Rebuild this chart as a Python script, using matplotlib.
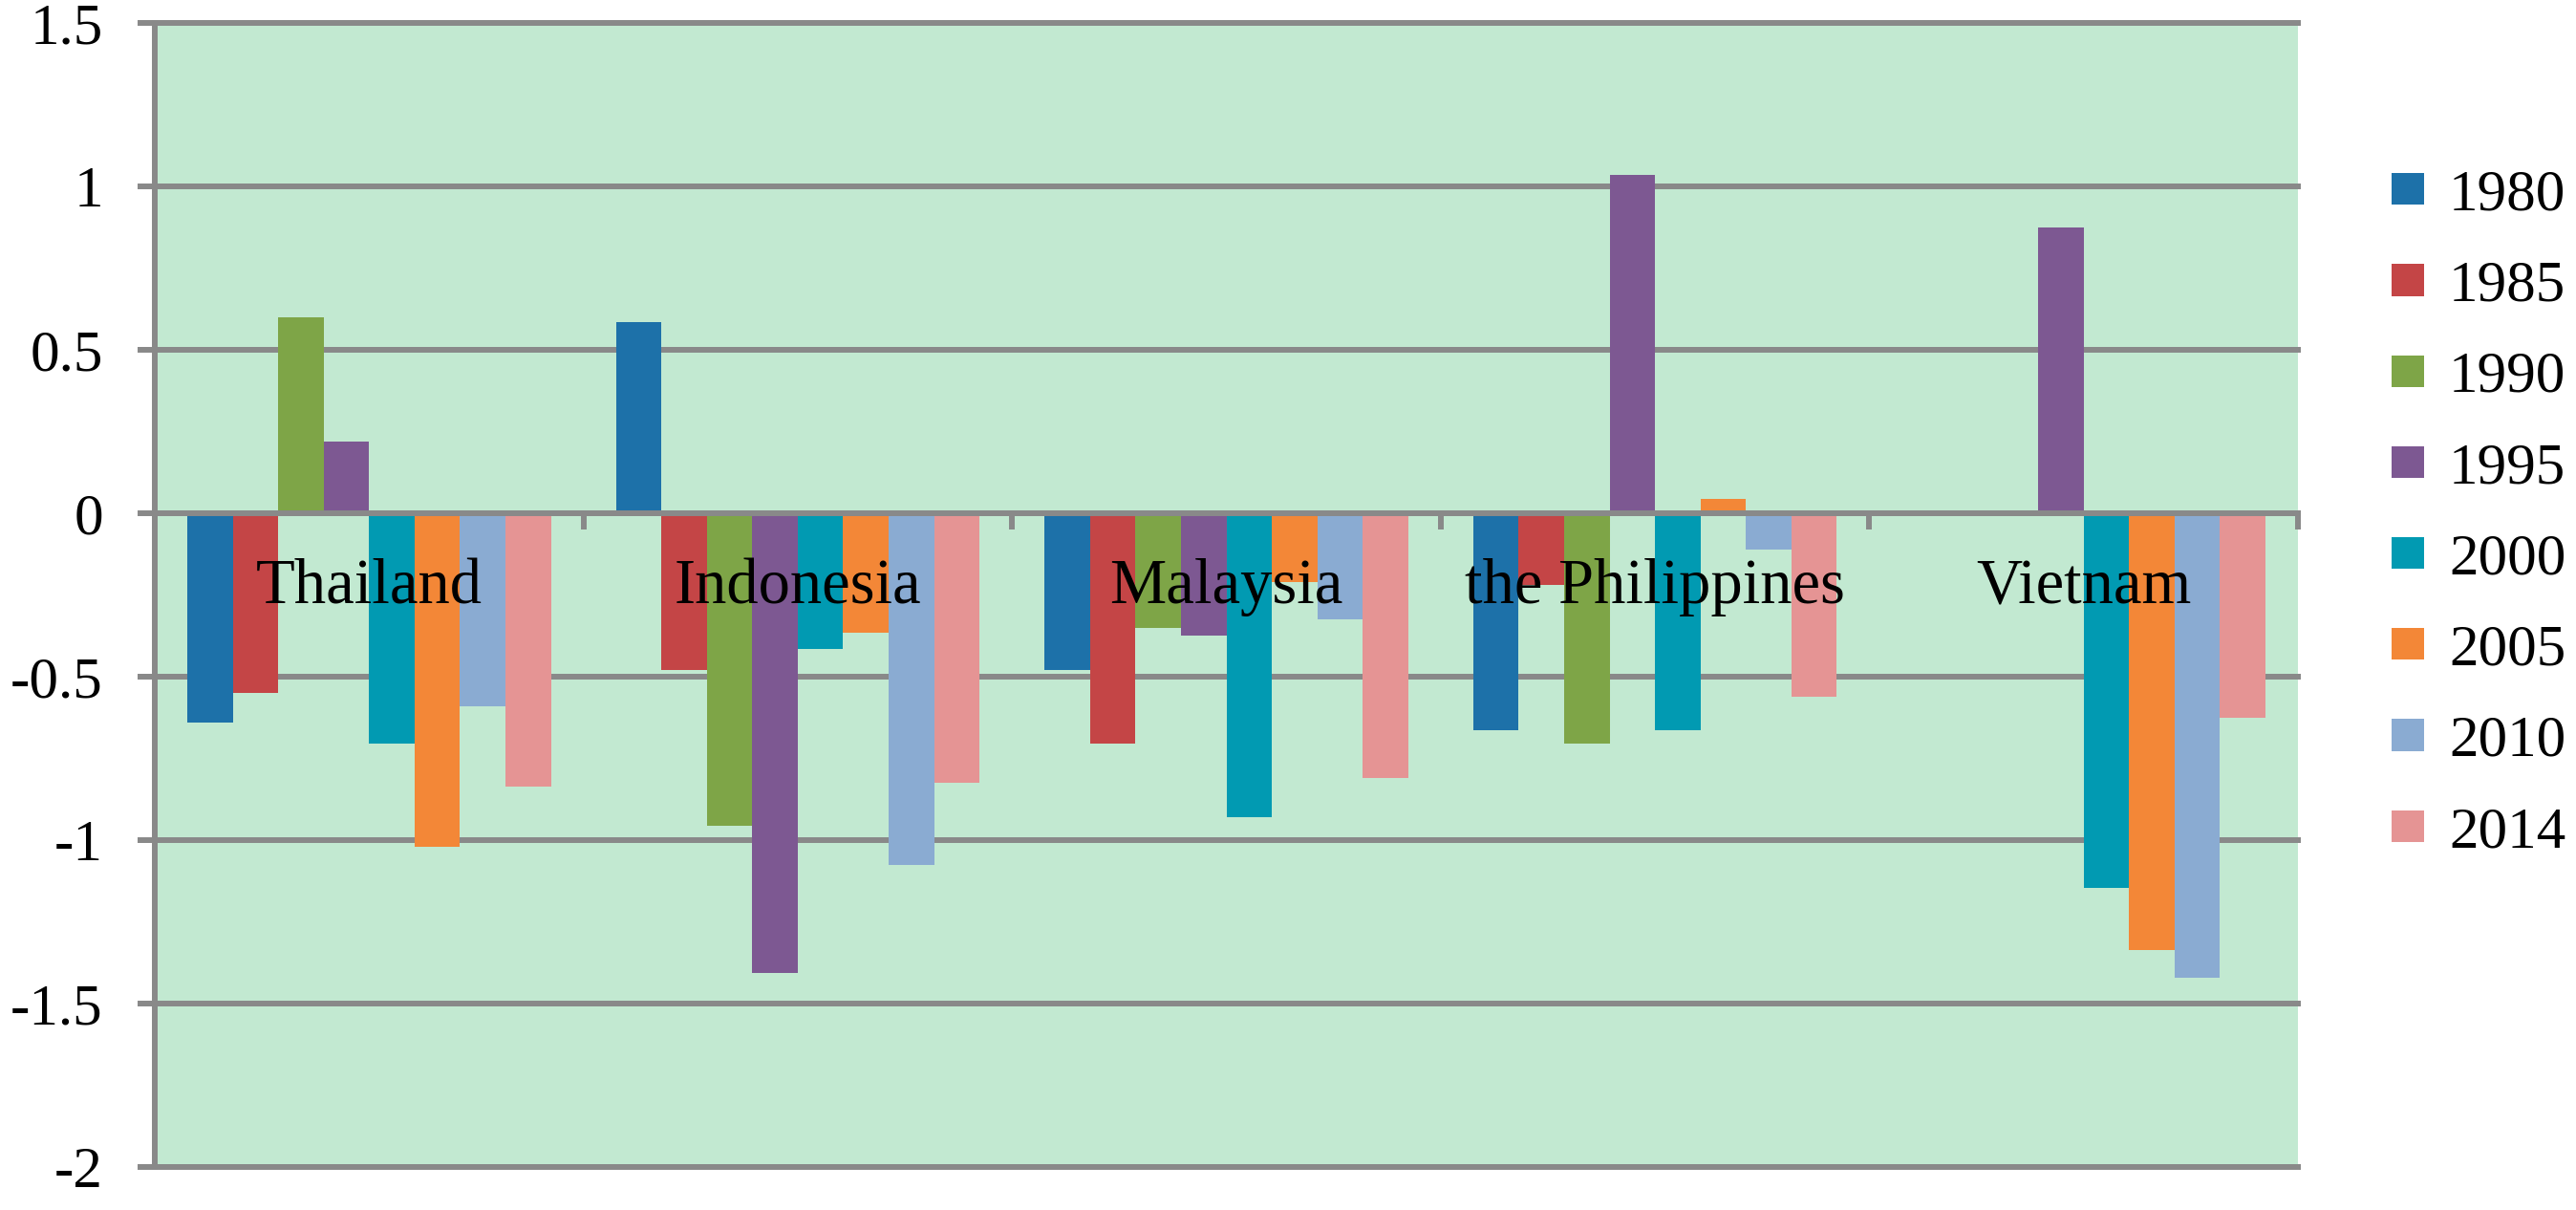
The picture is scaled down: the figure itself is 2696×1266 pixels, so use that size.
import matplotlib
matplotlib.use('Agg')
import matplotlib.pyplot as plt
import numpy as np
from matplotlib.ticker import FixedLocator

plt.rcParams['font.family'] = ['Liberation Serif', 'DejaVu Serif']
plt.rcParams['axes.unicode_minus'] = False

countries = ['Thailand', 'Indonesia', 'Malaysia', 'the Philippines', 'Vietnam']
years = ['1980', '1985', '1990', '1995', '2000', '2005', '2010', '2014']

# one list per year, values in country order
v1980 = [-0.64, 0.585, -0.48, -0.665, 0.0]
v1985 = [-0.55, -0.48, -0.705, -0.22, 0.0]
v1990 = [0.60, -0.955, -0.35, -0.705, 0.0]
v1995 = [0.22, -1.405, -0.375, 1.035, 0.875]
v2000 = [-0.705, -0.415, -0.93, -0.665, -1.145]
v2005 = [-1.02, -0.365, -0.21, 0.045, -1.335]
v2010 = [-0.59, -1.075, -0.325, -0.11, -1.42]
v2014 = [-0.835, -0.825, -0.81, -0.56, -0.625]

yticks = [1.5, 1, 0.5, 0, -0.5, -1, -1.5, -2]

series = [v1980, v1985, v1990, v1995, v2000, v2005, v2010, v2014]
colors = ['#1D71A9', '#C44546', '#7EA547', '#7D5892',
          '#019AB2', '#F38737', '#8AABD2', '#E59494']
grey = '#898989'

W, H = 2696, 1266
fig = plt.figure(figsize=(W / 100, H / 100), dpi=100)
ax = fig.add_axes([162 / W, 45 / H, (2405 - 162) / W, (1221 - 24) / H])
ax.set_facecolor('#C2E9D1')

x = np.arange(len(countries))
bw = 0.106
for i, (vals, col, yr) in enumerate(zip(series, colors, years)):
    ax.bar(x + (i - 3.5) * bw, vals, width=bw, color=col, label=yr,
           linewidth=0)

ax.set_xlim(-0.5, len(countries) - 0.5)
ax.set_ylim(min(yticks), max(yticks))

# y axis
ax.yaxis.set_major_locator(FixedLocator(yticks))
ax.set_yticklabels(['{:g}'.format(t) for t in yticks])
ax.tick_params(axis='y', direction='out', length=13, width=4.3, color=grey,
               labelsize=44, pad=26)
ax.grid(axis='y', color=grey, linewidth=4.3)
ax.set_axisbelow(True)
for gl in ax.get_ygridlines():
    gl.set_clip_on(False)

# x axis sits on zero, labels drawn over the bars
ax.spines['bottom'].set_position(('data', 0))
ax.xaxis.set_zorder(3)
ax.set_xticks(x)
ax.set_xticklabels(countries)
ax.set_xticks(np.arange(-0.5, len(countries)), minor=True)
ax.tick_params(axis='x', which='major', length=0, labelsize=48, pad=34)
ax.tick_params(axis='x', which='minor', direction='out', length=12,
               width=4.3, color=grey)

for side in ['top', 'right']:
    ax.spines[side].set_visible(False)
for side in ['left', 'bottom']:
    ax.spines[side].set_color(grey)
    ax.spines[side].set_linewidth(4.3)

ax.legend(loc='center left', bbox_to_anchor=(2503 / W, 1 - 538 / H),
          bbox_transform=fig.transFigure, frameon=False, fontsize=44,
          handlelength=0.56, handleheight=0.46, handletextpad=0.42,
          labelspacing=0.65, borderpad=0, borderaxespad=0)

fig.savefig('out.png', dpi=100)
